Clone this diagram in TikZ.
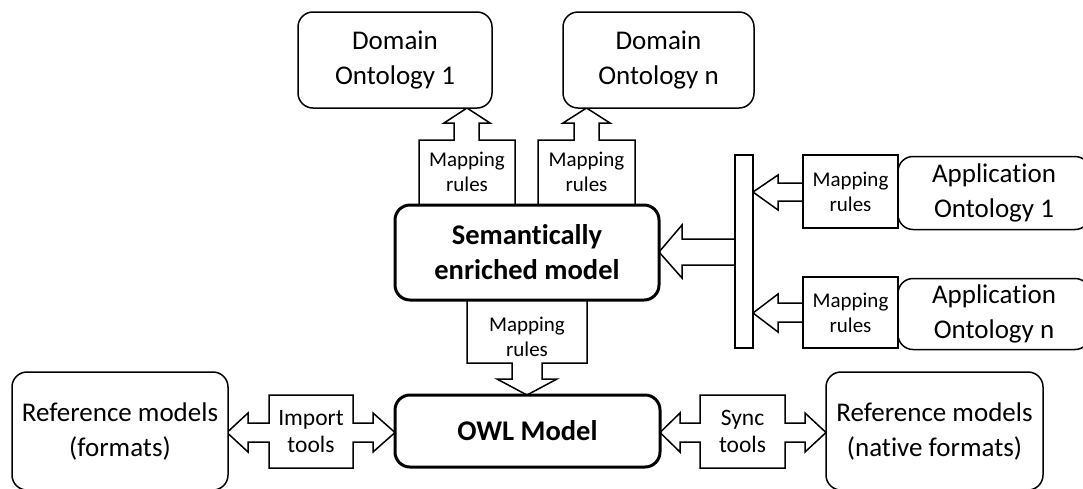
\documentclass[tikz,border=0pt]{standalone}
\usepackage{fontspec}
\setmainfont[Ligatures=NoCommon]{Carlito}
\newcommand\bigtxt{\fontsize{27}{35}\selectfont}
\newcommand\boldtxt{\fontsize{28.5}{35}\selectfont\bfseries}
\newcommand\smalltxt{\fontsize{21}{25}\selectfont}
\newcommand\tooltxt{\fontsize{23.5}{27}\selectfont}
\begin{document}
\begin{tikzpicture}[x=1pt,y=-1pt,
  box/.style={draw, line width=1.5pt, rounded corners=15pt, fill=white, align=center, font=\bigtxt, inner sep=0pt},
  mainbox/.style={box, line width=3pt, font=\boldtxt},
  blockarrow/.style={draw, line width=1.5pt, fill=white, line join=miter},
  lbl/.style={align=center, font=\smalltxt, inner sep=0pt},
  toollbl/.style={align=center, font=\tooltxt, inner sep=0pt}]
\useasboundingbox (0,0) rectangle (1083,488);

% ---- block arrows (drawn first) ----
% up arrow 1
\draw[blockarrow] (419,205) -- (419,140) -- (454,140) -- (454,123) -- (444,123) -- (467,108)
  -- (490,123) -- (479,123) -- (479,140) -- (515,140) -- (515,205) -- cycle;
\node[lbl] (m1) at (467,172) {Mapping\\rules};
% up arrow 2
\draw[blockarrow] (538,205) -- (538,140) -- (574,140) -- (574,123) -- (563,123) -- (586.5,108)
  -- (610,123) -- (599,123) -- (599,140) -- (635,140) -- (635,205) -- cycle;
\node[lbl] (m2) at (586.5,172) {Mapping\\rules};
% down arrow
\draw[blockarrow] (467,300) -- (587,300) -- (587,363) -- (542,363) -- (542,379) -- (557,379)
  -- (527,395) -- (497,379) -- (512,379) -- (512,363) -- (467,363) -- cycle;
\node[lbl] (m3) at (527,337) {Mapping\\rules};
% big left arrow from bar
\draw[blockarrow] (735,239) -- (682,239) -- (682,225) -- (659,252) -- (682,278) -- (682,265) -- (735,265);
% bar
\node[draw, line width=1.5pt, fill=white, minimum width=18pt, minimum height=193pt, inner sep=0pt] (bar) at (744,251.5) {};
% small arrows to bar
\draw[blockarrow] (803,183) -- (778,183) -- (778,175) -- (753,192) -- (778,210) -- (778,201) -- (803,201);
\node[draw, line width=1.5pt, fill=white, minimum width=95pt, minimum height=73pt, lbl] (m4) at (850.5,191.5) {Mapping\\rules};
\draw[blockarrow] (803,303) -- (778,303) -- (778,294) -- (753,313) -- (778,332) -- (778,322) -- (803,322);
\node[draw, line width=1.5pt, fill=white, minimum width=95pt, minimum height=71pt, lbl] (m5) at (850.5,312.5) {Mapping\\rules};
% import tools
\draw[blockarrow] (269,395) -- (353,395) -- (353,423) -- (373,423) -- (373,413) -- (395,432.5)
  -- (373,452) -- (373,442) -- (353,442) -- (353,468) -- (269,468) -- (269,442) -- (248,442)
  -- (248,452) -- (227,432.5) -- (248,413) -- (248,423) -- (269,423) -- cycle;
\node[toollbl] (imp) at (311,431.5) {Import\\tools};
% sync tools
\draw[blockarrow] (700,395) -- (785,395) -- (785,423) -- (805,423) -- (805,413) -- (826,432.5)
  -- (805,452) -- (805,442) -- (785,442) -- (785,468) -- (700,468) -- (700,442) -- (680,442)
  -- (680,452) -- (660,432.5) -- (680,413) -- (680,423) -- (700,423) -- cycle;
\node[toollbl] (sync) at (742.5,431.5) {Sync\\tools};

% ---- boxes ----
\node[box, minimum width=194pt, minimum height=96pt] (d1) at (395,60) {Domain\\Ontology 1};
\node[box, minimum width=191pt, minimum height=96pt] (dn) at (658.5,60) {Domain\\Ontology n};
\node[mainbox, minimum width=264pt, minimum height=95pt] (sem) at (527,252.5) {Semantically\\enriched model};
\node[mainbox, minimum width=265pt, minimum height=72pt] (owl) at (527.5,431) {OWL Model};
\node[box, minimum width=192pt, minimum height=73pt] (a1) at (994,193) {Application\\Ontology 1};
\node[box, minimum width=192pt, minimum height=71pt] (an) at (994,314) {Application\\Ontology n};
\node[box, minimum width=216pt, minimum height=118pt] (r1) at (120,431) {Reference models\\(formats)};
\node[box, minimum width=217pt, minimum height=118pt] (r2) at (934.5,431) {Reference models\\(native formats)};
\end{tikzpicture}
\end{document}
